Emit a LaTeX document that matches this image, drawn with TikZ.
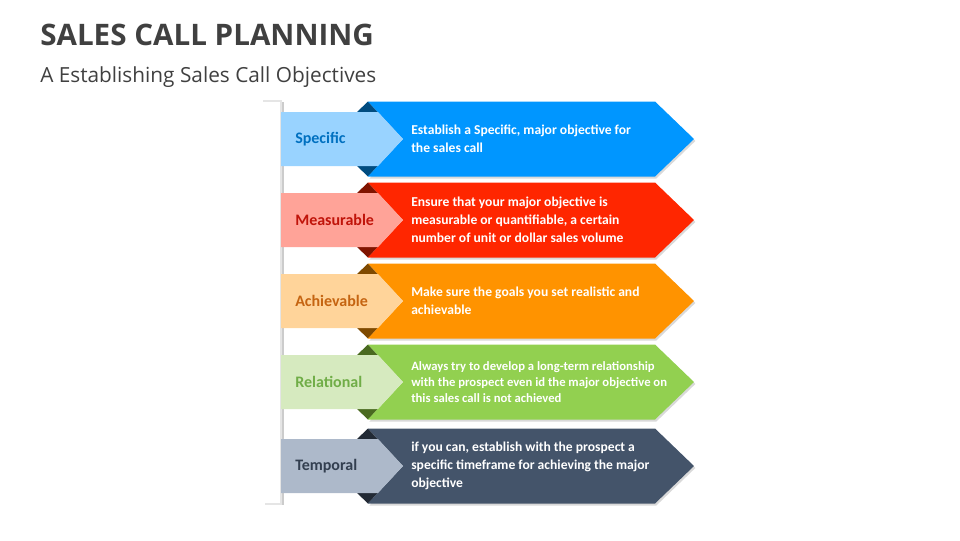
\documentclass[tikz,border=0pt]{standalone}
\usepackage{fontspec}
\setmainfont{Carlito}
\newfontfamily\headfont{Open Sans}
\usetikzlibrary{shadows}

\definecolor{titlegray}{RGB}{64,64,64}
\definecolor{specmain}{RGB}{0,150,255}
\definecolor{speclight}{RGB}{153,211,255}
\definecolor{specdark}{RGB}{0,76,128}
\definecolor{spectext}{RGB}{0,112,192}
\definecolor{measmain}{RGB}{255,38,0}
\definecolor{measlight}{RGB}{255,163,152}
\definecolor{measdark}{RGB}{128,20,0}
\definecolor{meastext}{RGB}{192,20,10}
\definecolor{achvmain}{RGB}{255,147,0}
\definecolor{achvlight}{RGB}{255,212,154}
\definecolor{achvdark}{RGB}{127,74,0}
\definecolor{achvtext}{RGB}{197,100,17}
\definecolor{relmain}{RGB}{146,208,80}
\definecolor{rellight}{RGB}{214,234,191}
\definecolor{reldark}{RGB}{74,106,32}
\definecolor{reltext}{RGB}{112,173,71}
\definecolor{tempmain}{RGB}{68,84,106}
\definecolor{templight}{RGB}{173,185,202}
\definecolor{tempdark}{RGB}{34,42,53}
\definecolor{temptext}{RGB}{51,63,80}

\begin{document}
\begin{tikzpicture}[x=0.75pt,y=-0.75pt,
    chevron/.style={drop shadow={shadow xshift=1pt,shadow yshift=-1.5pt,opacity=0.3}},
    labeltext/.style={anchor=west,inner sep=0,font=\bfseries\fontsize{12}{14}\selectfont},
    bodytext/.style={anchor=west,inner sep=0,align=left,text=white}]
\useasboundingbox (0,0) rectangle (960,540);

\node[anchor=base west,inner sep=0,text=titlegray,font=\headfont\bfseries\fontsize{22.2}{26}\selectfont] (title) at (40,45) {SALES CALL PLANNING};
\node[anchor=base west,inner sep=0,text=titlegray,font=\headfont\fontsize{15.6}{19}\selectfont] (subtitle) at (40,82) {A Establishing Sales Call Objectives};

% bracket
\draw[black!20,line width=1pt] (283,102) -- (283,505);
\draw[black!10,line width=0.8pt] (263,101) -- (281,101) -- (281,504) -- (265,504);

\foreach \n/\cy/\fs/\ls/\lab/\txt in {
    spec/139/10.2/13.5/Specific/{Establish a Specific, major objective for\\the sales call},
    meas/220/10.2/13.5/Measurable/{Ensure that your major objective is\\measurable or quantifiable, a certain\\number of unit or dollar sales volume},
    achv/301/10.2/13.5/Achievable/{Make sure the goals you set realistic and\\achievable},
    rel/382/9.5/12.3/Relational/{Always try to develop a long-term relationship\\with the prospect even id the major objective on\\this sales call is not achieved},
    temp/466/10.2/13.5/Temporal/{if you can, establish with the prospect a\\specific timeframe for achieving the major\\objective}}{
  \fill[\n dark] (357,\cy-27) -- (368,\cy-37.5) -- (378,\cy-27) -- cycle;
  \fill[\n dark] (357,\cy+27) -- (368,\cy+37.5) -- (378,\cy+27) -- cycle;
  \fill[\n main,chevron] (368,\cy-37.5) -- (655,\cy-37.5) -- (694,\cy) -- (655,\cy+37.5)
    -- (368,\cy+37.5) -- (403,\cy) -- cycle;
  \fill[\n light] (281,\cy-27) -- (378,\cy-27) -- (403,\cy) -- (378,\cy+27) -- (281,\cy+27) -- cycle;
  \node[labeltext,text=\n text] (\n-label) at (295,\cy) {\lab};
  \node[bodytext,font=\bfseries\fontsize{\fs}{\ls}\selectfont] (\n-text) at (411,\cy) {\txt};
}
\end{tikzpicture}
\end{document}
